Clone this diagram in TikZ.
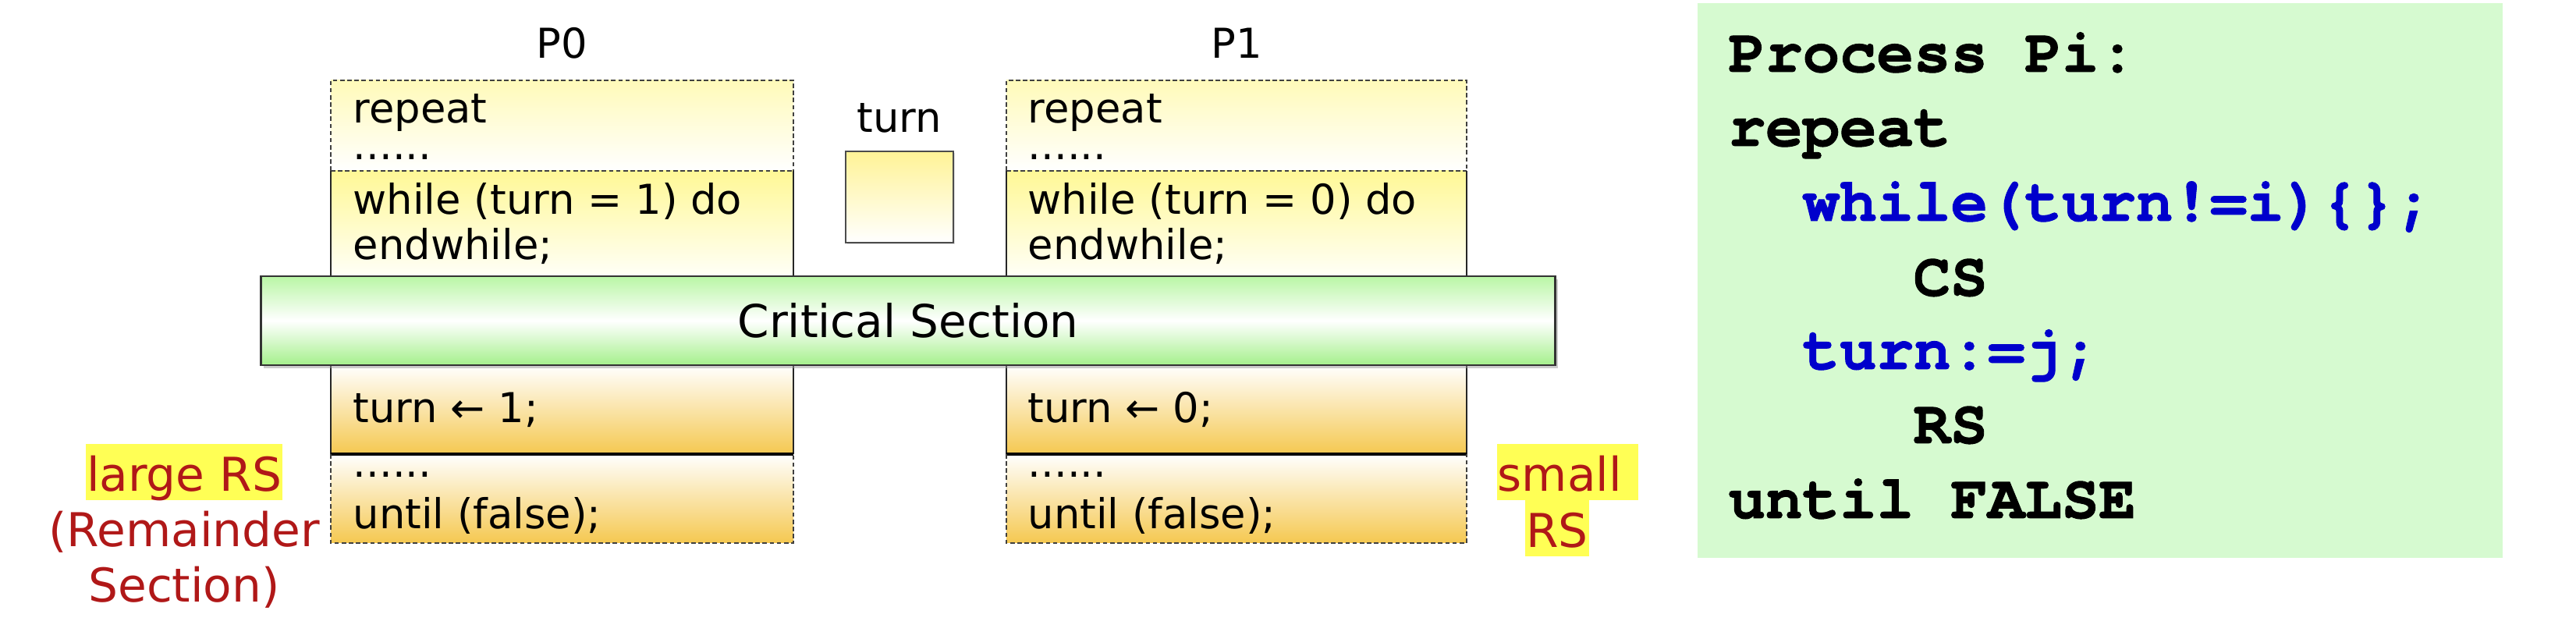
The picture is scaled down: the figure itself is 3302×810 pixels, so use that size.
\documentclass[tikz,border=0pt]{standalone}
\usepackage{fontspec}
\setmainfont{DejaVu Sans}
\newfontfamily\codefont{texgyrecursor}[Extension=.otf, UprightFont=*-regular, BoldFont=*-bold, BoldFeatures={FakeBold=1.2}]
\usetikzlibrary{shadows}
\definecolor{rtop}{RGB}{255,250,185}
\definecolor{wtop}{RGB}{255,248,150}
\definecolor{orng}{RGB}{245,200,80}
\definecolor{tbtop}{RGB}{255,243,150}
\definecolor{cstop}{RGB}{185,246,165}
\definecolor{csbot}{RGB}{165,240,140}
\definecolor{panel}{RGB}{214,250,208}
\definecolor{codeblue}{RGB}{0,0,204}
\definecolor{rstext}{RGB}{176,24,24}
\definecolor{hlyellow}{RGB}{255,255,85}
\begin{document}
\begin{tikzpicture}[x=0.01cm,y=-0.01cm,
  code/.style={font=\fontsize{15}{18}\selectfont, inner sep=0pt, anchor=base west},
  ttl/.style={font=\fontsize{15}{18}\selectfont, inner sep=0pt, anchor=base},
  dsh/.style={draw=black!75, line width=0.6pt, dash pattern=on 1.6pt off 1pt},
  sol/.style={draw=black!85, line width=0.75pt},
  rs/.style={font=\fontsize{17}{20}\selectfont, text=rstext, inner sep=0pt, anchor=base},
  hl/.style={rs, fill=hlyellow, inner xsep=0.3pt, inner ysep=0pt, text height=17.3pt, text depth=3.1pt},
  pc/.style={font=\codefont\bfseries\fontsize{22.5}{27}\selectfont, inner sep=0pt, anchor=base west},
]
\useasboundingbox (0,0) rectangle (3302,810);

% ---------- process boxes: shaded regions ----------
\foreach \xl/\xr in {424/1017, 1290/1880}{
  \shade[top color=rtop, bottom color=white] (\xl,103) rectangle (\xr,219);
  \shade[top color=wtop, bottom color=white!97!yellow] (\xl,219) rectangle (\xr,354);
  \shade[top color=white, bottom color=orng] (\xl,468) rectangle (\xr,582);
  \shade[top color=white, bottom color=orng] (\xl,582) rectangle (\xr,696);
  \draw[dsh] (\xl,219) -- (\xl,103) -- (\xr,103) -- (\xr,219);
  \draw[dsh] (\xl,219) -- (\xr,219);
  \draw[sol] (\xl,219) -- (\xl,354) (\xr,219) -- (\xr,354);
  \draw[sol] (\xl,468) -- (\xl,582) (\xr,468) -- (\xr,582);
  \draw[draw=black, line width=1pt] (\xl,582) -- (\xr,582);
  \draw[dsh] (\xl,582) -- (\xl,696) -- (\xr,696) -- (\xr,582);
}

% ---------- critical section bar ----------
\node (csbar) [draw=black!80, line width=0.7pt, top color=cstop, bottom color=csbot, middle color=white,
  drop shadow={shadow xshift=0.03cm, shadow yshift=-0.04cm, fill=black!40},
  minimum width=16.58cm, minimum height=1.14cm, inner sep=0pt,
  font=\fontsize{16.5}{19}\selectfont] at (1164,411) {Critical Section};

% ---------- turn variable ----------
\node (turnlbl) [ttl] at (1153,170) {turn};
\node (turnbox) [draw=black!70, line width=0.8pt, top color=tbtop, bottom color=white,
  drop shadow={shadow xshift=0.02cm, shadow yshift=-0.02cm, fill=black!25},
  minimum width=1.38cm, minimum height=1.17cm, inner sep=0pt] at (1153,252.5) {};

% ---------- P0 ----------
\node (p0ttl) [ttl] at (720,75) {P0};
\node (p0rep) [code] at (452,158) {repeat};
\node (p0d1)  [code] at (452,205) {......};
\node (p0wh)  [code] at (452,275) {while (turn = 1) do};
\node (p0ew)  [code] at (452,333) {endwhile;};
\node (p0tu)  [code] at (452,542) {turn ← 1;};
\node (p0d2)  [code] at (452,612) {......};
\node (p0un)  [code] at (452,678) {until (false);};

% ---------- P1 ----------
\node (p1ttl) [ttl] at (1585,75) {P1};
\node (p1rep) [code] at (1317,158) {repeat};
\node (p1d1)  [code] at (1317,205) {......};
\node (p1wh)  [code] at (1317,275) {while (turn = 0) do};
\node (p1ew)  [code] at (1317,333) {endwhile;};
\node (p1tu)  [code] at (1317,542) {turn ← 0;};
\node (p1d2)  [code] at (1317,612) {......};
\node (p1un)  [code] at (1317,678) {until (false);};

% ---------- remainder-section notes ----------
\node (largers) [hl] at (236,630) {large RS};
\node (remd)    [rs] at (236,701) {(Remainder};
\node (sect)    [rs] at (236,772) {Section)};
\node (small)   [hl, anchor=base west] at (1918,630) {small\hspace*{0.33em}};
\node (smallrs) [hl] at (1996,702) {RS};

% ---------- code panel ----------
\node (panel) [fill=panel, minimum width=10.32cm, minimum height=7.11cm, inner sep=0pt, anchor=north west] at (2175,3) {};
\node (l1) [pc] at (2215,92) {Process Pi:};
\node (l2) [pc] at (2215,187) {repeat};
\node (l3) [pc, text=codeblue] at (2310,283) {while(turn!=i)\{\};};
\node (l4) [pc] at (2452,379) {CS};
\node (l5) [pc, text=codeblue] at (2310,473) {turn:=j;};
\node (l6) [pc] at (2452,568) {RS};
\node (l7) [pc] at (2215,664) {until FALSE};
\end{tikzpicture}
\end{document}
